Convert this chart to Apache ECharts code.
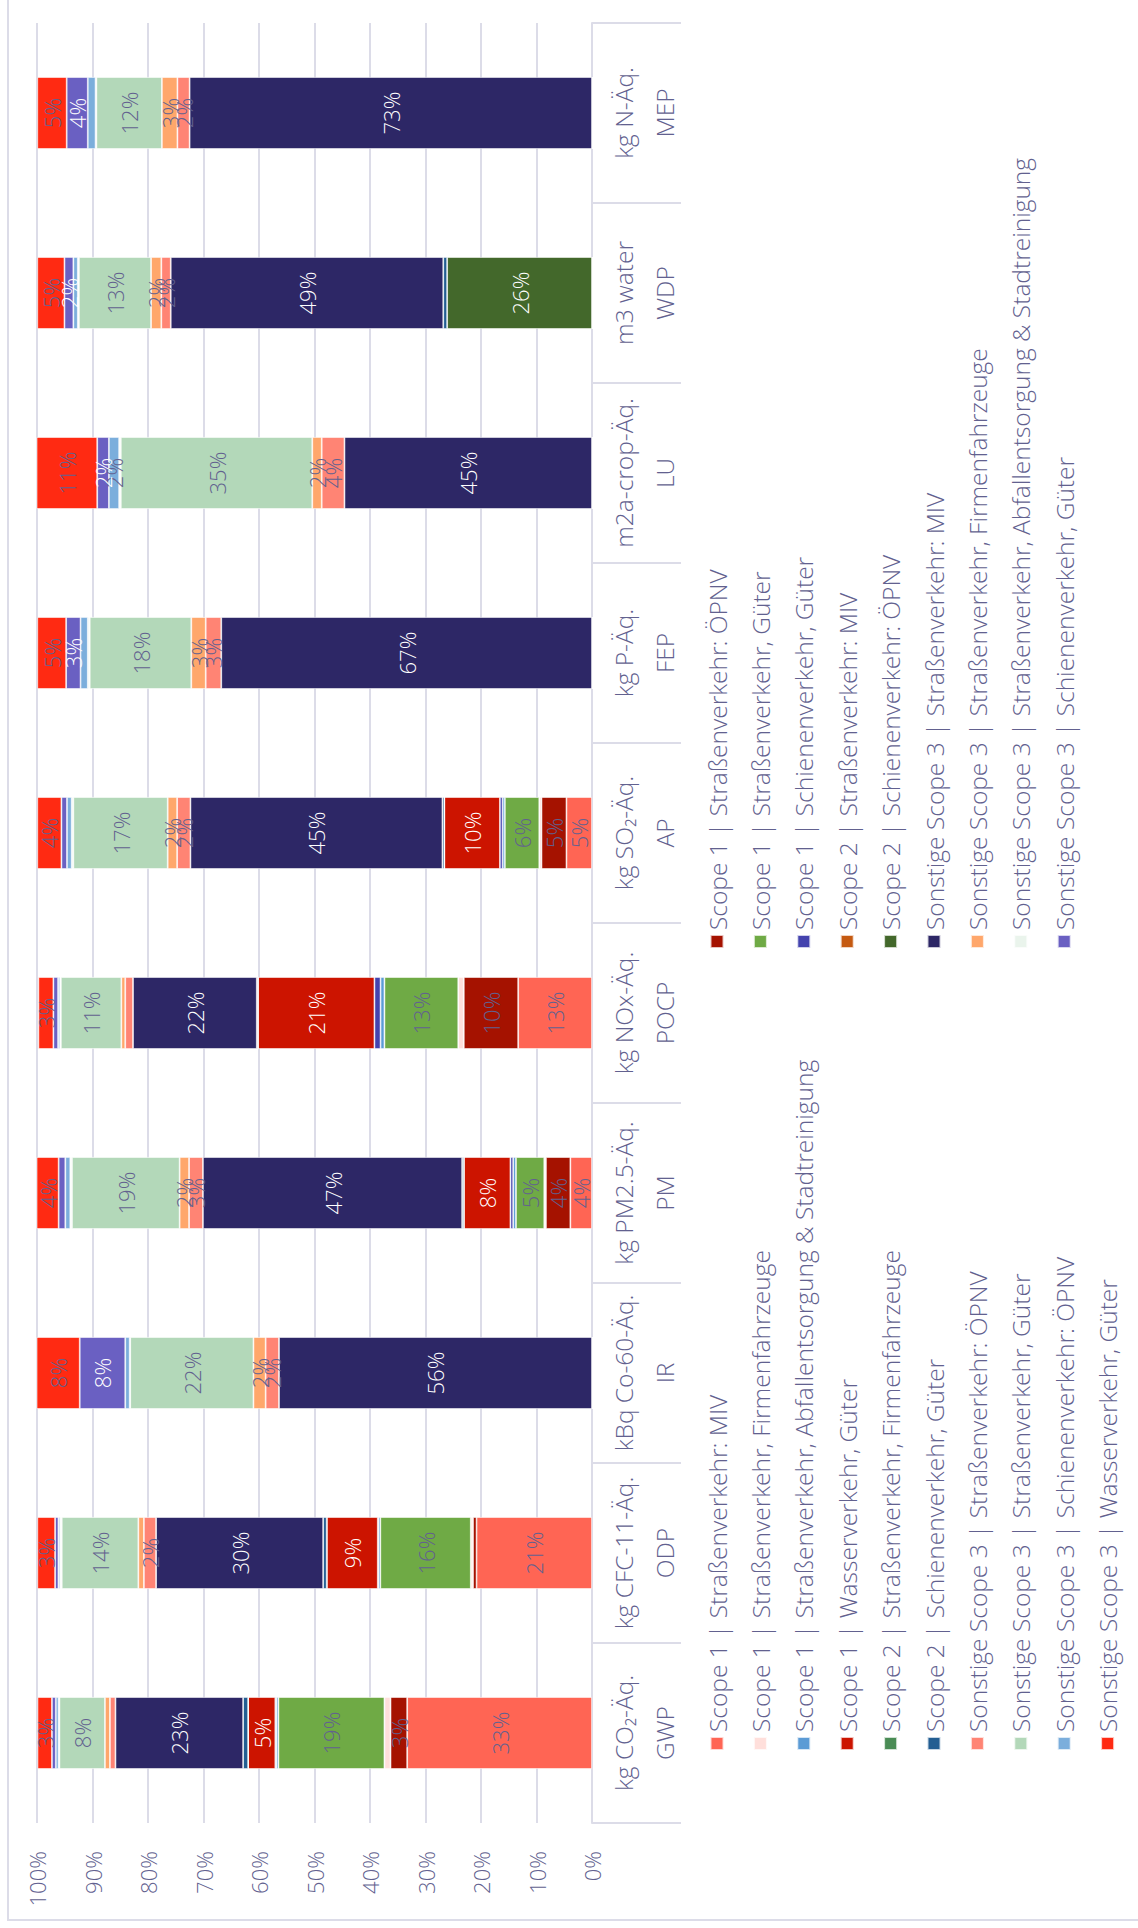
<!DOCTYPE html>
<html>
<head>
<meta charset="utf-8">
<script src="https://cdn.jsdelivr.net/npm/echarts@6/dist/echarts.min.js"></script>
<style>
  html, body { margin: 0; padding: 0; background: #ffffff; overflow: hidden; width: 1138px; height: 1928px; }
  #chart {
    position: absolute; left: 0; top: 0;
    width: 1928px; height: 1138px;
    transform-origin: 0 0;
    transform: translateY(1928px) rotate(-90deg);
  }
</style>
</head>
<body>
<div id="chart"></div>
<script>
// ---------- data (percent shares per impact category) ----------
const categories = ['GWP', 'ODP', 'IR', 'PM', 'POCP', 'AP', 'FEP', 'LU', 'WDP', 'MEP'];
const units = ['kg CO₂-Äq.', 'kg CFC-11-Äq.', 'kBq Co-60-Äq.', 'kg PM2.5-Äq.', 'kg NOx-Äq.',
               'kg SO₂-Äq.', 'kg P-Äq.', 'm2a-crop-Äq.', 'm3 water', 'kg N-Äq.'];
const valueTicks = [0, 10, 20, 30, 40, 50, 60, 70, 80, 90, 100];

const seriesNames = [
  'Scope 1 | Straßenverkehr: MIV',
  'Scope 1 | Straßenverkehr: ÖPNV',
  'Scope 1 | Straßenverkehr, Firmenfahrzeuge',
  'Scope 1 | Straßenverkehr, Güter',
  'Scope 1 | Straßenverkehr, Abfallentsorgung & Stadtreinigung',
  'Scope 1 | Schienenverkehr, Güter',
  'Scope 1 | Wasserverkehr, Güter',
  'Scope 2 | Straßenverkehr: MIV',
  'Scope 2 | Straßenverkehr, Firmenfahrzeuge',
  'Scope 2 | Schienenverkehr: ÖPNV',
  'Scope 2 | Schienenverkehr, Güter',
  'Sonstige Scope 3 | Straßenverkehr: MIV',
  'Sonstige Scope 3 | Straßenverkehr: ÖPNV',
  'Sonstige Scope 3 | Straßenverkehr, Firmenfahrzeuge',
  'Sonstige Scope 3 | Straßenverkehr, Güter',
  'Sonstige Scope 3 | Straßenverkehr, Abfallentsorgung & Stadtreinigung',
  'Sonstige Scope 3 | Schienenverkehr: ÖPNV',
  'Sonstige Scope 3 | Schienenverkehr, Güter',
  'Sonstige Scope 3 | Wasserverkehr, Güter'
];

//                 GWP   ODP   IR    PM    POCP  AP    FEP   LU    WDP   MEP
const s1StrMIV   = [33.3, 20.8, 0,    3.9,  13.3, 4.6,  0,    0,    0,    0];
const s1StrOEPNV = [3.0,  0.64, 0,    4.4,  9.8,  4.5,  0,    0,    0,    0];
const s1StrFirm  = [1.1,  0.4,  0,    0.3,  1.0,  0.4,  0,    0,    0,    0];
const s1StrGueter= [19.1, 16.3, 0,    5.1,  13.3, 6.2,  0,    0,    0,    0];
const s1StrAbf   = [0.36, 0.36, 0,    0.5,  0.7,  0.4,  0,    0,    0,    0];
const s1SchGueter= [0.2,  0.1,  0,    0.5,  1.1,  0.5,  0,    0,    0,    0];
const s1WasGueter= [4.9,  9.2,  0,    8.4,  21.0, 10.0, 0,    0,    0,    0];
const s2StrMIV   = [0,    0,    0,    0,    0,    0,    0,    0,    0,    0];
const s2StrFirm  = [0,    0,    0,    0,    0,    0,    0,    0,    0,    0];
const s2SchOEPNV = [0,    0,    0,    0,    0,    0,    0,    0,    26.1, 0];
const s2SchGueter= [0.9,  0.64, 0,    0.3,  0.2,  0.35, 0,    0,    0.7,  0];
const s3StrMIV   = [23.0, 30.1, 56.4, 46.7, 22.3, 45.4, 66.8, 44.6, 49.1, 72.5];
const s3StrOEPNV = [1.0,  2.2,  2.4,  2.5,  1.4,  2.4,  2.8,  4.1,  1.7,  2.2];
const s3StrFirm  = [0.9,  1.0,  2.2,  1.7,  0.7,  1.7,  2.6,  1.7,  1.85, 2.8];
const s3StrGueter= [8.2,  13.8, 22.2, 19.4, 10.9, 17.0, 18.3, 34.5, 13.0, 11.8];
const s3StrAbf   = [0.15, 0.3,  0.1,  0.3,  0.15, 0.3,  0.35, 0.3,  0.2,  0.15];
const s3SchOEPNV = [0.5,  0.3,  0.8,  0.9,  0.35, 0.85, 1.3,  1.85, 0.8,  1.4];
const s3SchGueter= [0.7,  0.6,  8.2,  1.2,  0.85, 1.0,  2.6,  2.1,  1.6,  3.8];
const s3WasGueter= [2.6,  3.2,  7.8,  4.1,  2.7,  4.35, 5.2,  11.0, 4.9,  5.3];

const seriesValues = [s1StrMIV, s1StrOEPNV, s1StrFirm, s1StrGueter, s1StrAbf, s1SchGueter, s1WasGueter,
  s2StrMIV, s2StrFirm, s2SchOEPNV, s2SchGueter,
  s3StrMIV, s3StrOEPNV, s3StrFirm, s3StrGueter, s3StrAbf, s3SchOEPNV, s3SchGueter, s3WasGueter];

const colors = ['#FF6554', '#A51200', '#FFDFDB', '#6FAA45', '#5B9BD5', '#4443AE', '#CC1400',
  '#C55A11', '#4A8C55', '#43682B', '#235E92',
  '#2D2766', '#FF8474', '#FFA76B', '#B3D8B9', '#EAF4EC', '#7BAEDC', '#6A60C2', '#FF2A12'];
const whiteLabel = [false, false, false, false, false, false, true,
  false, false, true, false,
  true, false, false, false, false, false, true, false];

// ---------- chart ----------
const TXT = '#62618f';
const FONT = '"Open Sans", Lato, "Noto Sans", sans-serif';
const FW = 300;
const chart = echarts.init(document.getElementById('chart'), null, { renderer: 'svg' });

const series = seriesNames.map((name, i) => ({
  name: name,
  type: 'bar',
  stack: 'total',
  barWidth: 72,
  data: seriesValues[i],
  itemStyle: { color: colors[i], borderColor: 'rgba(255,255,255,0.75)', borderWidth: 0.8 },
  label: {
    show: true,
    position: 'inside',
    fontFamily: FONT,
    fontWeight: FW,
    fontSize: 22,
    color: whiteLabel[i] ? '#ffffff' : TXT,
    formatter: p => (Math.round(p.value) >= 2 ? Math.round(p.value) + '%' : '')
  },
  emphasis: { disabled: true }
}));

const leftNames = seriesNames.filter((n, i) => i % 2 === 0);
const rightNames = seriesNames.filter((n, i) => i % 2 === 1);
const legendBase = {
  orient: 'vertical',
  top: 704,
  height: 480,
  padding: 0,
  itemWidth: 13,
  itemHeight: 13,
  itemGap: 17.4,
  icon: 'rect',
  selectedMode: false,
  textStyle: { fontFamily: FONT, fontWeight: FW, fontSize: 24.5, color: TXT, lineHeight: 26 }
};

chart.setOption({
  animation: false,
  color: colors,
  grid: { left: 105, right: 23, top: 37, bottom: 546, containLabel: false },
  graphic: [{
    type: 'rect',
    shape: { x: 8, y: 8, width: 1940, height: 1160 },
    style: { fill: 'none', stroke: '#dcdce8', lineWidth: 2 },
    silent: true
  }],
  legend: [
    Object.assign({}, legendBase, { left: 177, data: leftNames }),
    Object.assign({}, legendBase, { left: 979, data: rightNames })
  ],
  xAxis: {
    type: 'category',
    data: categories,
    axisLine: { show: true, lineStyle: { color: '#dcdce8', width: 2 } },
    axisTick: { show: true, length: 89, lineStyle: { color: '#dcdce8', width: 2 } },
    axisLabel: {
      margin: 11,
      interval: 0,
      formatter: (v, idx) => '{u|' + units[idx] + '}\n{a|' + v + '}',
      rich: {
        u: { fontFamily: FONT, fontWeight: FW, fontSize: 24.5, color: TXT, lineHeight: 41 },
        a: { fontFamily: FONT, fontWeight: FW, fontSize: 24.5, color: TXT, lineHeight: 41 }
      }
    }
  },
  yAxis: {
    type: 'value',
    min: valueTicks[0],
    max: valueTicks[valueTicks.length - 1],
    interval: valueTicks[1] - valueTicks[0],
    axisLine: { show: false },
    axisTick: { show: false },
    axisLabel: { formatter: '{value}%', fontFamily: FONT, fontWeight: FW, fontSize: 22, color: TXT, margin: 28 },
    splitLine: { show: true, lineStyle: { color: '#dcdce8', width: 2 } }
  },
  series: series
});
</script>
</body>
</html>
